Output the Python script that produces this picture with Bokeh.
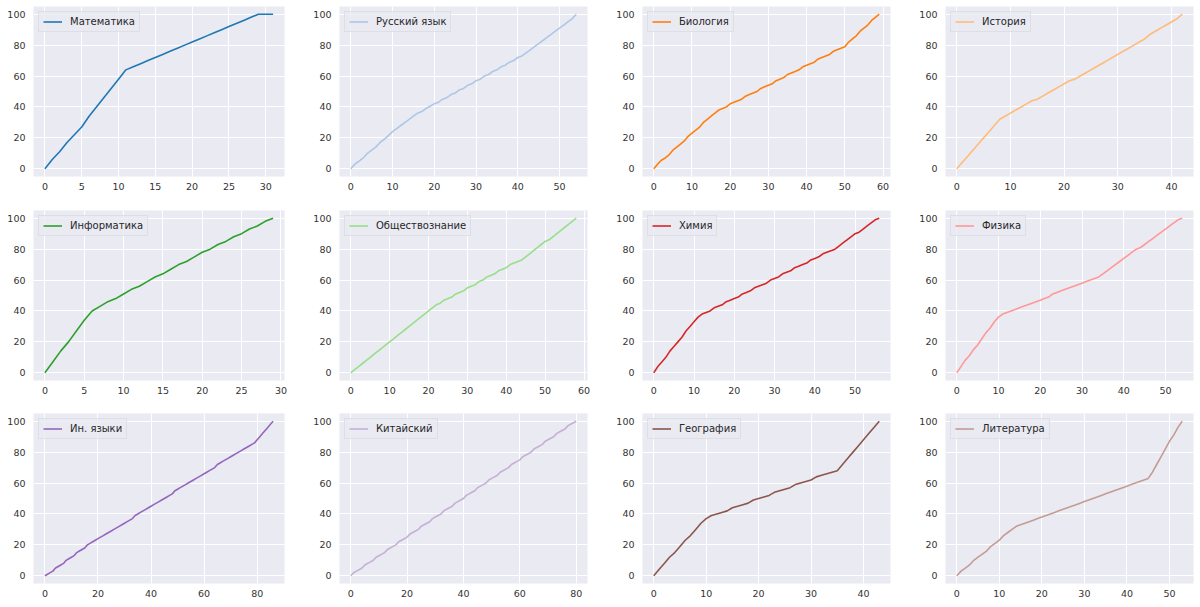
from bokeh.plotting import figure
from bokeh.layouts import gridplot
from bokeh.models import Range1d, SingleIntervalTicker, FixedTicker
from bokeh.embed import file_html
from bokeh.resources import INLINE

subjects = ["Математика", "Русский язык", "Биология", "История",
            "Информатика", "Обществознание", "Химия", "Физика",
            "Ин. языки", "Китайский", "География", "Литература"]

colors = ["#1f77b4", "#aec7e8", "#ff7f0e", "#ffbb78",
          "#2ca02c", "#98df8a", "#d62728", "#ff9896",
          "#9467bd", "#c5b0d5", "#8c564b", "#c49c94"]

x_tick_steps = [5, 10, 10, 10, 5, 10, 10, 10, 20, 20, 10, 10]
y_ticks = [0, 20, 40, 60, 80, 100]

math_y = [0, 6, 11, 17, 22, 27, 34, 40, 46, 52, 58, 64, 66, 68, 70, 72, 74, 76,
          78, 80, 82, 84, 86, 88, 90, 92, 94, 96, 98, 100, 100, 100]
russian_y = [0, 3, 5, 7, 10, 12, 14, 17, 19, 21.5, 24, 26, 28, 30, 32, 34, 36, 37,
             39, 40.5, 42, 43, 45, 46, 48, 49, 51, 52, 54, 55, 57, 58, 60, 61, 63,
             64, 66, 67, 69, 70, 72, 73, 75, 77, 79, 81, 83, 85, 87, 89, 91, 93,
             95, 97, 100]
biology_y = [0, 3, 5.5, 7, 9, 12, 14, 16, 18, 21, 23, 25, 27, 30, 32, 34, 36, 38,
             39, 40, 42, 43, 44, 45, 47, 48, 49, 50, 52, 53, 54, 55, 57, 58, 59,
             61, 62, 63, 64, 66, 67, 68, 69, 71, 72, 73, 74, 76, 77, 78, 79, 82,
             84, 86, 89, 91, 93, 96, 98, 100]
history_y = [0, 4, 8, 12, 16, 20, 24, 28, 32, 34, 36, 38, 40, 42, 44, 45, 47, 49,
             51, 53, 55, 57, 58, 60, 62, 64, 66, 68, 70, 72, 74, 76, 78, 80, 82,
             84, 87, 89, 91, 93, 95, 97, 100]
informatics_y = [0, 7, 14, 20, 27, 34, 40, 43, 46, 48, 51, 54, 56, 59, 62, 64, 67,
                 70, 72, 75, 78, 80, 83, 85, 88, 90, 93, 95, 98, 100]
social_y = [0, 2, 4, 6, 8, 10, 12, 14, 16, 18, 20, 22, 24, 26, 28, 30, 32, 34, 36,
            38, 40, 42, 44, 45, 47, 48, 49, 51, 52, 53, 55, 56, 57, 59, 60, 62, 63,
            64, 66, 67, 68, 70, 71, 72, 73, 75, 77, 79, 81, 83, 85, 86, 88, 90, 92,
            94, 96, 98, 100]
chemistry_y = [0, 4, 7, 10, 14, 17, 20, 23, 27, 30, 33, 36, 38, 39, 40, 42, 43, 44,
               46, 47, 48, 49, 51, 52, 53, 55, 56, 57, 58, 60, 61, 62, 64, 65, 66,
               68, 69, 70, 71, 73, 74, 75, 77, 78, 79, 80, 82, 84, 86, 88, 90, 91,
               93, 95, 97, 99, 100]
physics_y = [0, 4, 8, 11, 15, 18, 22, 26, 29, 33, 36, 38, 39, 40, 41, 42, 43, 44,
             45, 46, 47, 48, 49, 51, 52, 53, 54, 55, 56, 57, 58, 59, 60, 61, 62, 64,
             66, 68, 70, 72, 74, 76, 78, 80, 81, 83, 85, 87, 89, 91, 93, 95, 97, 99,
             100]
foreign_y = [0, 1, 2, 3, 5, 6, 7, 8, 10, 11, 12, 13, 15, 16, 17, 18, 20, 21, 22, 23,
             24, 25, 26, 27, 28, 29, 30, 31, 32, 33, 34, 35, 36, 37, 39, 40, 41, 42,
             43, 44, 45, 46, 47, 48, 49, 50, 51, 52, 53, 55, 56, 57, 58, 59, 60, 61,
             62, 63, 64, 65, 66, 67, 68, 69, 70, 72, 73, 74, 75, 76, 77, 78, 79, 80,
             81, 82, 83, 84, 85, 86, 88, 90, 92, 94, 96, 98, 100]
chinese_y = [0, 2, 3, 4, 5, 7, 8, 9, 10, 12, 13, 14, 15, 17, 18, 19, 20, 22, 23, 24,
             25, 27, 28, 29, 30, 32, 33, 34, 35, 37, 38, 39, 40, 42, 43, 44, 45, 47,
             48, 49, 50, 52, 53, 54, 55, 57, 58, 59, 60, 62, 63, 64, 65, 67, 68, 69,
             70, 72, 73, 74, 75, 77, 78, 79, 80, 82, 83, 84, 85, 87, 88, 89, 90, 92,
             93, 94, 95, 97, 98, 99, 100]
geography_y = [0, 4, 8, 12, 15, 19, 23, 26, 30, 34, 37, 39, 40, 41, 42, 44, 45, 46,
               47, 49, 50, 51, 52, 54, 55, 56, 57, 59, 60, 61, 62, 64, 65, 66, 67,
               68, 72, 76, 80, 84, 88, 92, 96, 100]
literature_y = [0, 3, 5, 7, 10, 12, 14, 16, 19, 21, 23, 26, 28, 30, 32, 33, 34, 35,
                36, 37, 38, 39, 40, 41, 42, 43, 44, 45, 46, 47, 48, 49, 50, 51, 52,
                53, 54, 55, 56, 57, 58, 59, 60, 61, 62, 63, 67, 72, 77, 82, 87, 91,
                96, 100]

series = [math_y, russian_y, biology_y, history_y,
          informatics_y, social_y, chemistry_y, physics_y,
          foreign_y, chinese_y, geography_y, literature_y]

FONT = "DejaVu Sans"
BG = "#EAEAF2"

col_widths = [310, 303, 303, 284]
col_border_left = [33, 26, 26, 26]
col_border_right = [26, 26, 26, 7]
row_heights = [204, 204, 198]
row_border_top = [6, 6, 5]
row_border_bottom = [28, 28, 23]

rows = []
for r in range(3):
    row_figs = []
    for c in range(4):
        i = r * 4 + c
        ys = series[i]
        n = len(ys) - 1
        xs = list(range(len(ys)))
        p = figure(width=col_widths[c], height=row_heights[r],
                   output_backend="svg", toolbar_location=None,
                   x_range=Range1d(-0.05 * n, 1.05 * n),
                   y_range=Range1d(-5, 105),
                   min_border_left=col_border_left[c],
                   min_border_right=col_border_right[c],
                   min_border_top=row_border_top[r],
                   min_border_bottom=row_border_bottom[r])
        p.background_fill_color = BG
        p.border_fill_color = "white"
        p.outline_line_color = None
        p.line(xs, ys, line_color=colors[i], line_width=1.6, legend_label=subjects[i])

        p.xaxis.ticker = SingleIntervalTicker(interval=x_tick_steps[i], num_minor_ticks=0)
        p.yaxis.ticker = FixedTicker(ticks=y_ticks)
        for ax in (p.xaxis, p.yaxis):
            ax.axis_line_color = None
            ax.major_tick_line_color = None
            ax.minor_tick_line_color = None
            ax.major_tick_out = 0
            ax.major_tick_in = 0
            ax.major_label_text_font = FONT
            ax.major_label_text_font_size = "9.5px"
            ax.major_label_text_color = "#333333"
        p.xaxis.major_label_standoff = 6
        p.yaxis.major_label_standoff = 8
        p.xgrid.grid_line_color = "white"
        p.ygrid.grid_line_color = "white"
        p.xgrid.grid_line_width = 1
        p.ygrid.grid_line_width = 1

        lg = p.legend[0]
        lg.location = "top_left"
        lg.margin = 5
        lg.padding = 4
        lg.spacing = 0
        lg.label_text_font = FONT
        lg.label_text_font_size = "10px"
        lg.label_text_color = "#262626"
        lg.label_height = 11
        lg.glyph_height = 11
        lg.glyph_width = 19
        lg.label_standoff = 8
        lg.background_fill_color = BG
        lg.background_fill_alpha = 0.8
        lg.border_line_color = "#d2d2d8"
        lg.border_line_width = 1
        row_figs.append(p)
    rows.append(row_figs)

grid = gridplot(rows, toolbar_location=None)

open("out.html", "w").write(file_html(grid, INLINE))
